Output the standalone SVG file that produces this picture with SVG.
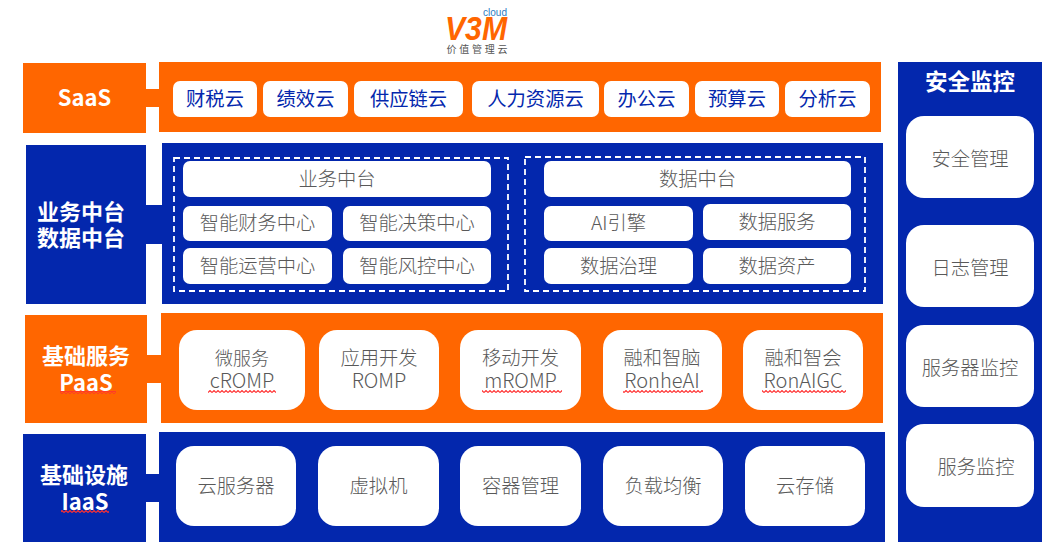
<svg xmlns="http://www.w3.org/2000/svg" width="1057" height="558" viewBox="0 0 1057 558">
<style>
text{font-family:"Noto Sans CJK SC","Noto Sans",sans-serif;text-anchor:middle}
.o{fill:#ff6600}.b{fill:#0327ad}.w{fill:#fff}
.g{fill:#595959;font-size:19.300px;font-weight:300}
.l{fill:#595959;font-size:20px;font-weight:300}
.c{fill:#0327ad;font-size:19.300px;font-weight:400}
.h{fill:#fff;font-size:22px;font-weight:700}
.d{fill:none;stroke:#fff;stroke-width:1.800;stroke-dasharray:6 4}
</style>
<defs>
<pattern id="wave" width="4" height="3" patternUnits="userSpaceOnUse"><path d="M0 2.500 L2 0.500 L4 2.500" fill="none" stroke="#ff3030" stroke-width="1.100"/></pattern>
</defs>
<rect width="1057" height="558" fill="#fff"/>
<g id="logo">
<text x="476" y="40" style="font-family:'Liberation Sans',sans-serif;font-size:33px;font-weight:700;font-style:italic;fill:#ff6600" textLength="62" lengthAdjust="spacingAndGlyphs">V3M</text>
<text x="495" y="16" style="font-family:'Liberation Sans',sans-serif;font-size:10.500px;fill:#2b7cc4" textLength="24" lengthAdjust="spacingAndGlyphs">cloud</text>
<text x="477" y="53" style="font-size:10px;fill:#555" textLength="61">价值管理云</text>
</g>
<g id="connectors">
<rect class="o" x="145" y="89" width="15" height="18"/>
<rect class="b" x="145" y="205" width="18" height="39"/>
<rect class="o" x="147" y="355" width="15" height="28"/>
<rect class="b" x="145" y="474" width="15" height="28"/>
</g>
<g id="saas-label"><rect class="o" x="23" y="63" width="123" height="70"/><text class="h" x="84.500" y="106">SaaS</text></g>
<g id="saas-panel"><rect class="o" x="159" y="62" width="722" height="70"/></g>
<g id="saas-items">
<g id="s1"><rect class="w" x="173" y="81" width="84" height="36" rx="7"/><text class="c" x="215" y="105.500">财税云</text></g>
<g id="s2"><rect class="w" x="263" y="81" width="85" height="36" rx="7"/><text class="c" x="305.500" y="105.500">绩效云</text></g>
<g id="s3"><rect class="w" x="354" y="81" width="109" height="36" rx="7"/><text class="c" x="408.500" y="105.500">供应链云</text></g>
<g id="s4"><rect class="w" x="472" y="81" width="127" height="36" rx="7"/><text class="c" x="535.500" y="105.500">人力资源云</text></g>
<g id="s5"><rect class="w" x="604" y="81" width="85" height="36" rx="7"/><text class="c" x="646.500" y="105.500">办公云</text></g>
<g id="s6"><rect class="w" x="695" y="81" width="84" height="36" rx="7"/><text class="c" x="737" y="105.500">预算云</text></g>
<g id="s7"><rect class="w" x="785" y="81" width="85" height="36" rx="7"/><text class="c" x="827.500" y="105.500">分析云</text></g>
</g>
<g id="mid-label"><rect class="b" x="26" y="145" width="120" height="159"/><text class="h" x="81" y="220">业务中台</text><text class="h" x="81" y="246">数据中台</text></g>
<g id="mid-panel"><rect class="b" x="162" y="143" width="721" height="161"/>
<rect class="d" x="174" y="158" width="334" height="133"/><rect class="d" x="525" y="157" width="340" height="134"/></g>
<g id="mid-items">
<g id="m1"><rect class="w" x="183" y="161" width="308" height="36" rx="7"/><text class="g" x="337" y="186">业务中台</text></g>
<g id="m2"><rect class="w" x="183" y="206" width="149" height="35" rx="7"/><text class="g" x="257.500" y="230">智能财务中心</text></g>
<g id="m3"><rect class="w" x="343" y="206" width="148" height="35" rx="7"/><text class="g" x="417" y="230">智能决策中心</text></g>
<g id="m4"><rect class="w" x="183" y="248" width="149" height="36" rx="7"/><text class="g" x="257.500" y="273">智能运营中心</text></g>
<g id="m5"><rect class="w" x="343" y="248" width="148" height="36" rx="7"/><text class="g" x="417" y="273">智能风控中心</text></g>
<g id="m6"><rect class="w" x="544" y="161" width="307" height="36" rx="7"/><text class="g" x="697.500" y="186">数据中台</text></g>
<g id="m7"><rect class="w" x="544" y="206" width="149" height="35" rx="7"/><text class="g" x="618.500" y="230">AI引擎</text></g>
<g id="m8"><rect class="w" x="703" y="204" width="148" height="36" rx="7"/><text class="g" x="777" y="229">数据服务</text></g>
<g id="m9"><rect class="w" x="544" y="248" width="149" height="36" rx="7"/><text class="g" x="618.500" y="273">数据治理</text></g>
<g id="m10"><rect class="w" x="703" y="248" width="148" height="36" rx="7"/><text class="g" x="777" y="273">数据资产</text></g>
</g>
<g id="paas-label"><rect class="o" x="25" y="315" width="122" height="108"/><text class="h" x="86" y="364">基础服务</text><text class="h" x="86" y="391">PaaS</text><rect fill="url(#wave)" x="60" y="391" width="56" height="3"/></g>
<g id="paas-panel"><rect class="o" x="161" y="313" width="722" height="110"/></g>
<g id="paas-items">
<g id="p1"><rect class="w" x="179" y="330" width="126" height="80" rx="18"/><text class="g" x="242" y="365" style="font-size:18px">微服务</text><text class="l" x="242" y="388">cROMP</text><rect fill="url(#wave)" x="208" y="390" width="68" height="3"/></g>
<g id="p2"><rect class="w" x="319" y="330" width="120" height="80" rx="18"/><text class="g" x="379" y="365">应用开发</text><text class="l" x="379" y="388">ROMP</text></g>
<g id="p3"><rect class="w" x="460" y="330" width="121" height="80" rx="18"/><text class="g" x="520.500" y="365">移动开发</text><text class="l" x="520.500" y="388">mROMP</text><rect fill="url(#wave)" x="482" y="390" width="80" height="3"/></g>
<g id="p4"><rect class="w" x="603" y="330" width="119" height="80" rx="18"/><text class="g" x="662" y="365">融和智脑</text><text class="l" x="662" y="388">RonheAI</text><rect fill="url(#wave)" x="623" y="390" width="80" height="3"/></g>
<g id="p5"><rect class="w" x="743" y="330" width="120" height="80" rx="18"/><text class="g" x="803" y="365">融和智会</text><text class="l" x="803" y="388">RonAIGC</text><rect fill="url(#wave)" x="762" y="390" width="84" height="3"/></g>
</g>
<g id="iaas-label"><rect class="b" x="23" y="434" width="123" height="108"/><text class="h" x="84" y="483">基础设施</text><text class="h" x="85" y="510">IaaS</text><rect fill="url(#wave)" x="61" y="510" width="48" height="3"/></g>
<g id="iaas-panel"><rect class="b" x="159" y="432" width="726" height="110"/></g>
<g id="iaas-items">
<g id="i1"><rect class="w" x="176" y="446" width="120" height="80" rx="18"/><text class="g" x="236" y="493">云服务器</text></g>
<g id="i2"><rect class="w" x="318" y="446" width="121" height="80" rx="18"/><text class="g" x="378.500" y="493">虚拟机</text></g>
<g id="i3"><rect class="w" x="460" y="446" width="121" height="80" rx="18"/><text class="g" x="520.500" y="493">容器管理</text></g>
<g id="i4"><rect class="w" x="603" y="446" width="120" height="80" rx="18"/><text class="g" x="663" y="493">负载均衡</text></g>
<g id="i5"><rect class="w" x="745" y="446" width="120" height="80" rx="18"/><text class="g" x="805" y="493">云存储</text></g>
</g>
<g id="security-panel"><rect class="b" x="898" y="62" width="144" height="480"/><text class="h" x="970" y="90" style="font-size:22.500px">安全监控</text></g>
<g id="security-items">
<g id="r1"><rect class="w" x="906" y="116" width="128" height="82" rx="18"/><text class="g" x="970" y="166">安全管理</text></g>
<g id="r2"><rect class="w" x="906" y="225" width="128" height="82" rx="18"/><text class="g" x="970" y="275">日志管理</text></g>
<g id="r3"><rect class="w" x="906" y="325" width="128" height="82" rx="18"/><text class="g" x="970" y="375">服务器监控</text></g>
<g id="r4"><rect class="w" x="906" y="424" width="128" height="83" rx="18"/><text class="g" x="976" y="474">服务监控</text></g>
</g>
</svg>
